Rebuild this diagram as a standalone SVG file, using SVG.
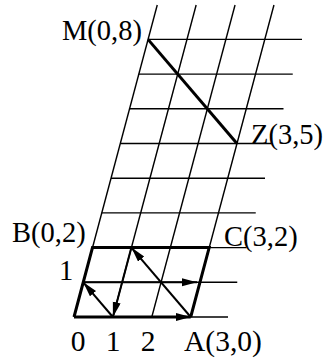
<svg xmlns="http://www.w3.org/2000/svg" width="324" height="360" viewBox="0 0 324 360">
<style>
.thin{stroke:#000;stroke-width:1.4;fill:none}
.mid{stroke:#000;stroke-width:2;fill:none}
.thick{stroke:#000;stroke-width:3;fill:none;stroke-linejoin:miter}
.lbl{font-family:"Liberation Serif","Times New Roman",serif;font-size:28.5px;fill:#000}
.bot{font-size:29.5px}
</style>
<defs>
<marker id="ah" markerUnits="userSpaceOnUse" markerWidth="16" markerHeight="9" refX="15" refY="4" orient="auto">
<path d="M0,0 L15,4 L0,8 z" fill="#000"/>
</marker>
</defs>
<rect width="324" height="360" fill="#fff"/>
<g id="grid">
<line class="thin" x1="74" y1="317" x2="157.25" y2="5"/>
<line class="thin" x1="112.9" y1="317" x2="196.15" y2="5"/>
<line class="thin" x1="151.8" y1="317" x2="235.05" y2="5"/>
<line class="thin" x1="190.7" y1="317" x2="273.95" y2="5"/>
<line class="thin" x1="74" y1="317" x2="228" y2="317"/>
<line class="thin" x1="83.25" y1="282.3" x2="237.25" y2="282.3"/>
<line class="thin" x1="92.5" y1="247.6" x2="246.5" y2="247.6"/>
<line class="thin" x1="101.75" y1="212.9" x2="255.75" y2="212.9"/>
<line class="thin" x1="111" y1="178.2" x2="265" y2="178.2"/>
<line class="thin" x1="120.25" y1="143.5" x2="271" y2="143.5"/>
<line class="thin" x1="129.5" y1="108.8" x2="283.5" y2="108.8"/>
<line class="thin" x1="138.75" y1="74.1" x2="292.75" y2="74.1"/>
<line class="thin" x1="148" y1="39.4" x2="302" y2="39.4"/>
</g>
<g id="connectors">
<polyline class="thick" points="190.7,317 209.2,247.6 92.5,247.6 74,317"/>
<line class="thick" x1="74" y1="317" x2="190.7" y2="317" marker-end="url(#ah)"/>
<line class="thick" x1="148" y1="39.4" x2="236.95" y2="143.5"/>
<line class="mid" x1="83.25" y1="282.3" x2="197" y2="282.3" marker-end="url(#ah)"/>
<line class="mid" x1="112.9" y1="317" x2="83.25" y2="282.3" marker-end="url(#ah)"/>
<line class="mid" x1="131.4" y1="247.6" x2="112.9" y2="317" marker-end="url(#ah)"/>
<line class="mid" x1="190.7" y1="317" x2="131.4" y2="247.6" marker-end="url(#ah)"/>
</g>
<g id="labels">
<text id="M" class="lbl" x="62" y="40">M(0,8)</text>
<text id="Z" class="lbl" x="251" y="144">Z(3,5)</text>
<text id="B" class="lbl" x="12" y="242">B(0,2)</text>
<text id="C" class="lbl" x="224" y="246">C(3,2)</text>
<text id="one" class="lbl" x="66" y="280" text-anchor="middle">1</text>
<text id="x0" class="lbl bot" x="78" y="351" text-anchor="middle">0</text>
<text id="x1" class="lbl bot" x="113" y="351" text-anchor="middle">1</text>
<text id="x2" class="lbl bot" x="148" y="351" text-anchor="middle">2</text>
<text id="A" class="lbl bot" x="184" y="351">A(3,0)</text>
</g>
</svg>
